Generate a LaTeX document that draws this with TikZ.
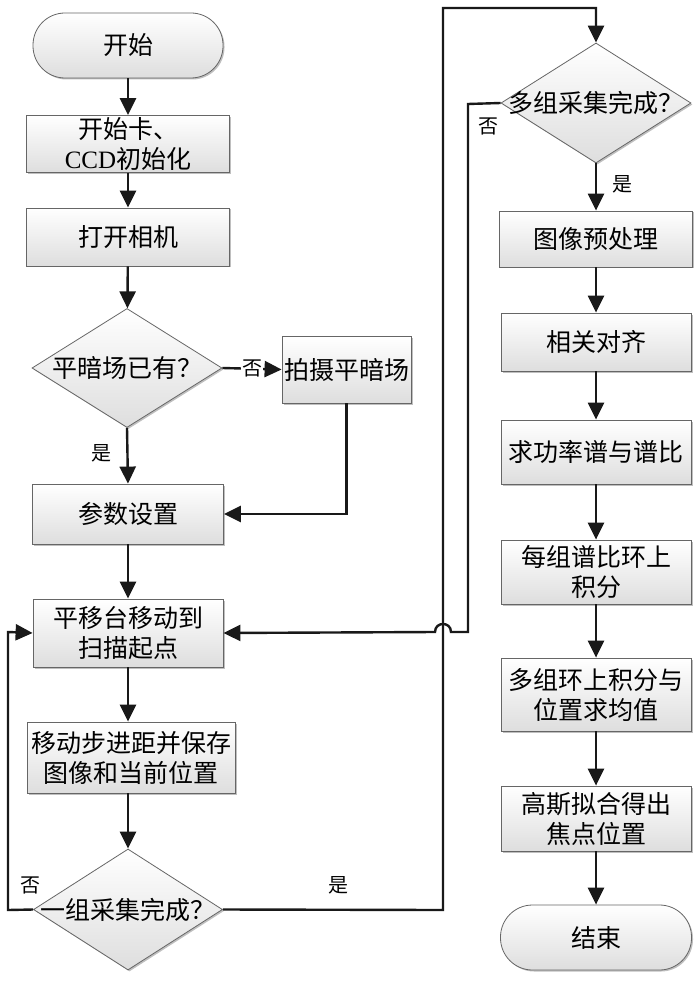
\documentclass[tikz,border=0pt]{standalone}
\usepackage{fontspec}
\setmainfont{Noto Sans CJK SC}
\newfontfamily\lat{Liberation Serif}
\usetikzlibrary{shapes.geometric,arrows.meta,shadows}
\begin{document}
\begin{tikzpicture}[x=1pt,y=-1pt,
  base/.style={draw=black!60, line width=0.8pt, top color=white, bottom color=black!13,
    font=\fontsize{25}{30}\selectfont, align=center, inner sep=0pt,
    drop shadow={shadow xshift=1.5pt, shadow yshift=-1.5pt, opacity=0.25, fill=black}},
  wh/.style 2 args={minimum width=#1pt, minimum height=#2pt},
  term/.style={base, rectangle, rounded corners=32pt},
  proc/.style={base, rectangle},
  dec/.style={base, diamond},
  conn/.style={line width=2.4pt, draw=black!90, -{Triangle[length=17pt,width=16pt]}},
  lbl/.style={font=\fontsize{20}{22}\selectfont, inner sep=1pt}
]
\useasboundingbox (0,0) rectangle (700,981);
\fill[white] (0,0) rectangle (700,981);

% left column
\node[term, wh={190}{65}] (start) at (128,45.5) {开始};
\node[proc, wh={203}{57}] (init) at (128,144) {开始卡、\\{\lat CCD}初始化};
\node[proc, wh={203}{58}] (cam) at (128,237) {打开相机};
\node[dec, wh={190}{119}] (dq) at (127,368) {\makebox[0pt]{平暗场已有？}};
\node[proc, wh={129}{67}] (dark) at (346.5,369.5) {\makebox[0pt]{拍摄平暗场}};
\node[proc, wh={191}{60}] (param) at (128,514) {参数设置};
\node[proc, wh={190}{68}] (move) at (128,633) {平移台移动到\\扫描起点};
\node[proc, wh={208}{71}] (stepbox) at (131,757.5) {\makebox[0pt]{移动步进距并保存}\\\makebox[0pt]{图像和当前位置}};
\node[dec, wh={189}{121}] (dq2) at (128,909.5) {\makebox[0pt]{一组采集完成？}};

% right column
\node[dec, wh={190}{120}] (dq3) at (596,103) {\makebox[0pt]{多组采集完成？}};
\node[proc, wh={193}{56}] (pre) at (596,239) {图像预处理};
\node[proc, wh={190}{58}] (align) at (596,342) {相关对齐};
\node[proc, wh={190}{64}] (psd) at (596,452) {\makebox[0pt]{求功率谱与谱比}};
\node[proc, wh={190}{64}] (ring) at (596,572) {每组谱比环上\\积分};
\node[proc, wh={190}{73}] (avg) at (596,694.5) {\makebox[0pt]{多组环上积分与}\\位置求均值};
\node[proc, wh={190}{65}] (gauss) at (596,818.5) {高斯拟合得出\\焦点位置};
\node[term, wh={191}{65}] (end) at (596,937.5) {结束};

% helper coordinates
\coordinate (lx) at (8,632);
\coordinate (ly) at (8,910);
\coordinate (r1) at (443,910);
\coordinate (r2) at (443,8);
\coordinate (r3) at (596,8);
\coordinate (n1) at (468,104);
\coordinate (n2) at (468,632);
\coordinate (h1) at (451,632);
\coordinate (h2) at (435,632);
\coordinate (d1) at (346.5,514);

% connectors left
\draw[conn] (start) -- (init);
\draw[conn] (init) -- (cam);
\draw[conn] (cam) -- (dq);
\draw[conn] (dq.east) -- node[lbl, fill=white] {否} (dark.west);
\draw[conn] (dq.south) -- node[lbl, pos=0.45, left=14pt] {是} (param.north);
\draw[conn] (dark.south) -- (d1) -- (param.east);
\draw[conn] (param) -- (move);
\draw[conn] (move.south) -- (move.south |- stepbox.north);
\draw[conn] (move.south |- stepbox.south) -- (dq2.north);
\draw[conn] (dq2.west) -- (ly) -- (lx) -- (move.west);
\node[lbl] (no2) at (30,885) {否};
\draw[conn] (dq2.east) -- (r1) -- (r2) -- (r3) -- (dq3.north);
\node[lbl] (yes2) at (338,885) {是};
\draw[conn] (dq3.west) -- (n1) -- (n2) -- (h1) .. controls (451,621.3) and (435,621.3) .. (h2) -- (move.east);
\node[lbl] (no3) at (488,126) {否};

% connectors right
\draw[conn] (dq3.south) -- node[lbl, pos=0.45, right=14pt] {是} (pre.north);
\draw[conn] (pre) -- (align);
\draw[conn] (align) -- (psd);
\draw[conn] (psd) -- (ring);
\draw[conn] (ring) -- (avg);
\draw[conn] (avg) -- (gauss);
\draw[conn] (gauss) -- (end);
\end{tikzpicture}
\end{document}
